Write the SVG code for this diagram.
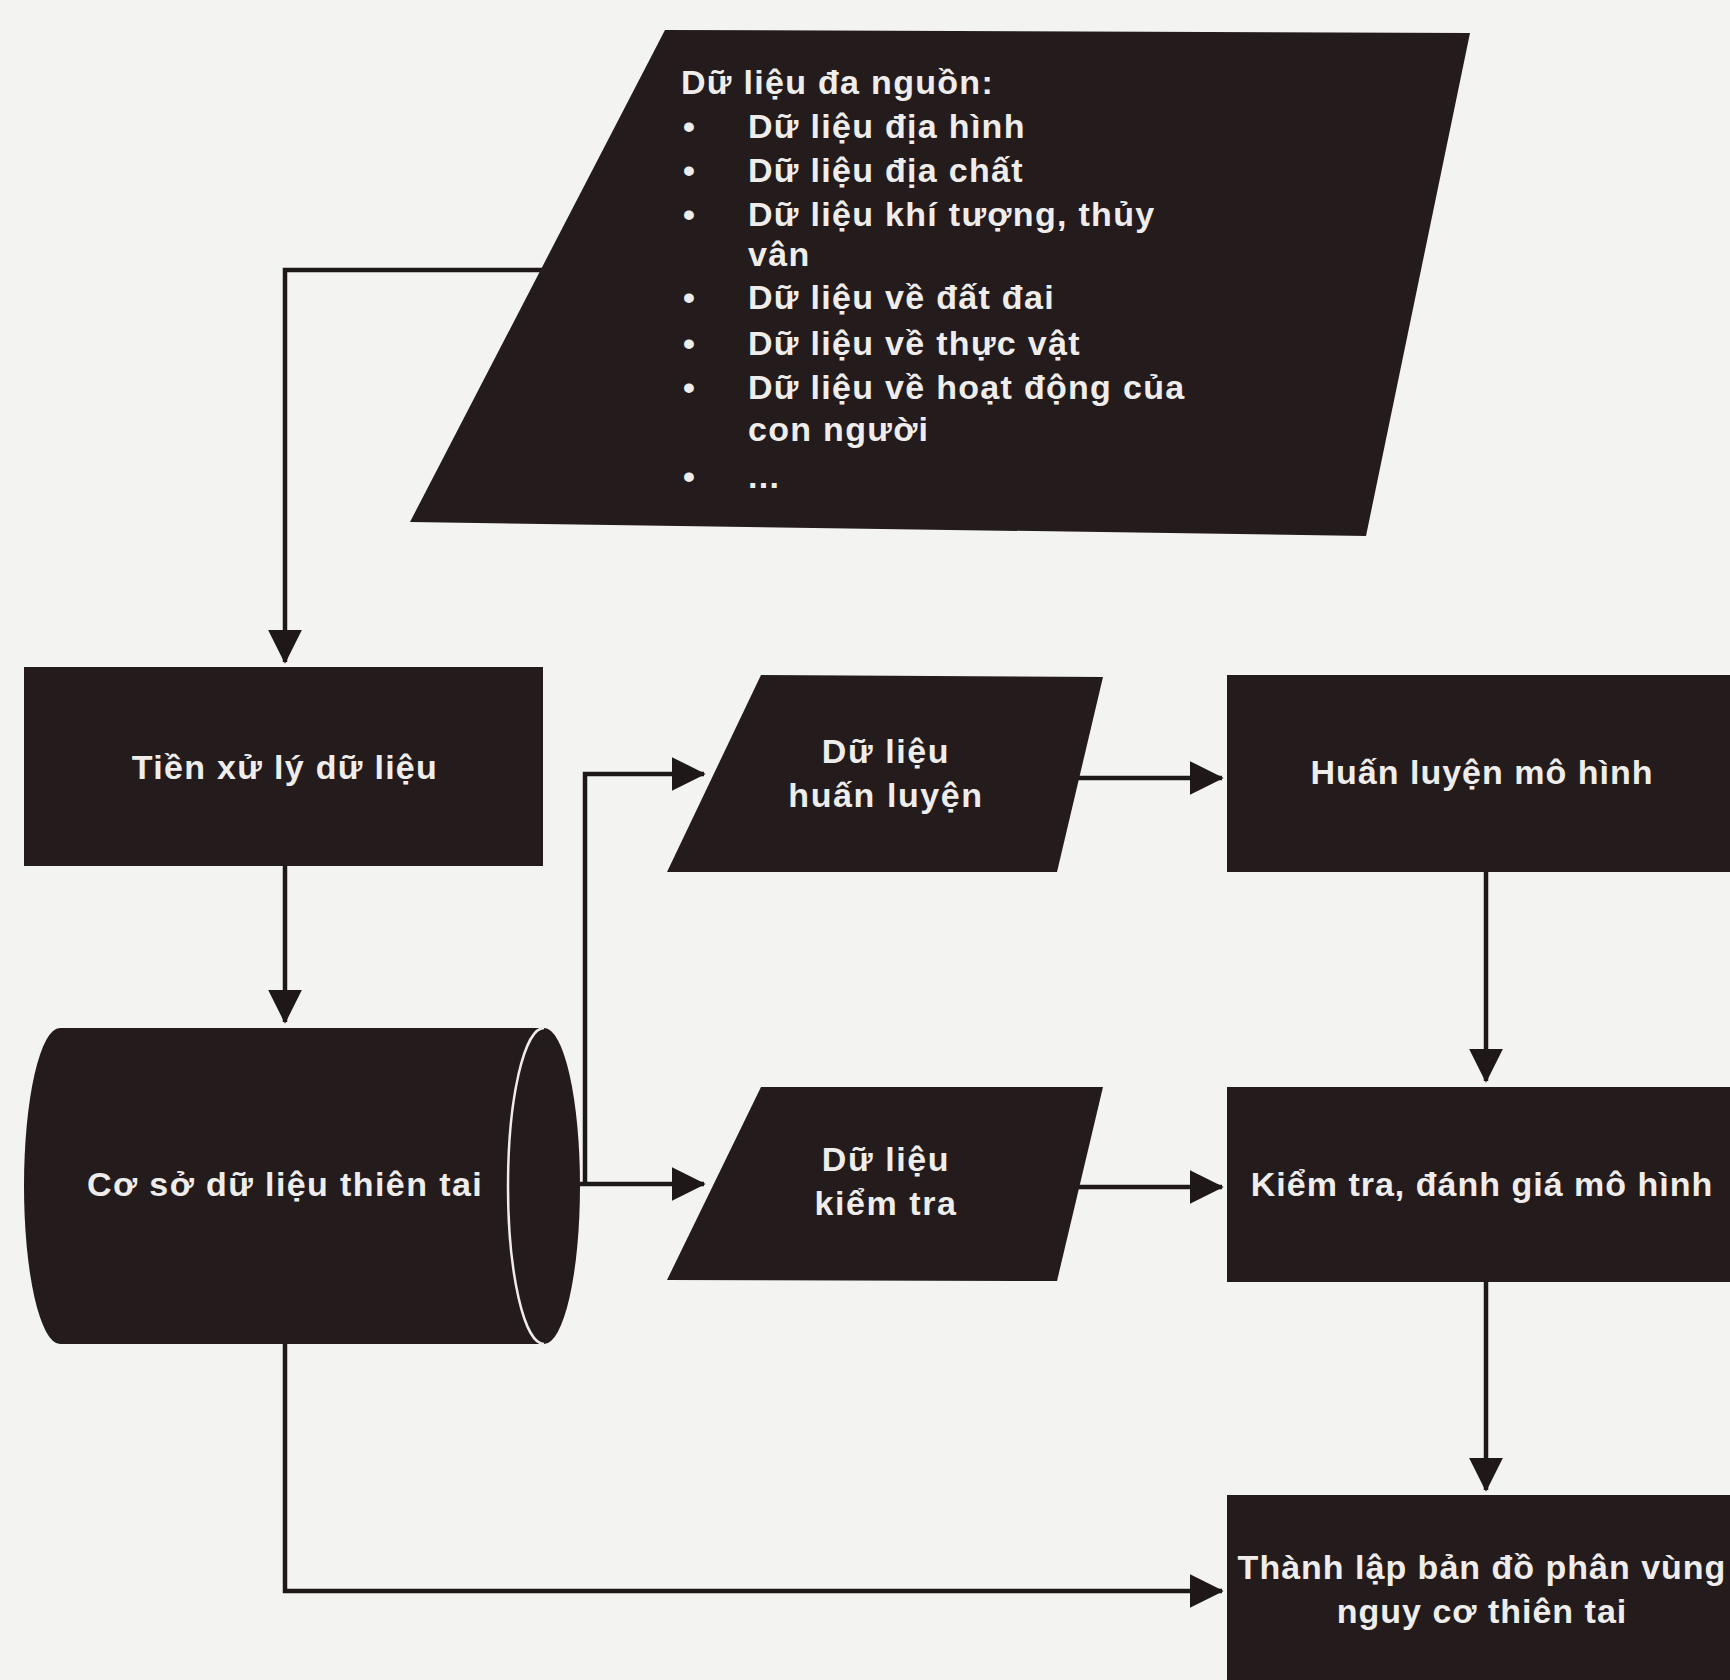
<svg xmlns="http://www.w3.org/2000/svg" width="1730" height="1680" viewBox="0 0 1730 1680">
<defs>
<style>
.node{fill:#241c1c;}
.t{fill:#efedeb;font-family:"Liberation Sans",Arial,sans-serif;font-weight:bold;font-size:34px;}
.c{text-anchor:middle;}
.l{letter-spacing:1.3px;}
.p{letter-spacing:1.6px;}
.r{letter-spacing:1px;}
.edge{fill:none;stroke:#1e1818;stroke-width:4.5;}
</style>
<marker id="ah" viewBox="0 0 10 10" refX="9.5" refY="5" markerWidth="7.5" markerHeight="7.5" markerUnits="strokeWidth" orient="auto">
<path d="M0,0 L10,5 L0,10 z" fill="#1e1818"/>
</marker>
</defs>
<rect width="1730" height="1680" fill="#f3f3f1"/>

<g id="connectors">
<path class="edge" d="M545,270 H285 V662" marker-end="url(#ah)"/>
<path class="edge" d="M285,866 V1022" marker-end="url(#ah)"/>
<path class="edge" d="M580,1184 H704" marker-end="url(#ah)"/>
<path class="edge" d="M585,1184 V774 H704" marker-end="url(#ah)"/>
<path class="edge" d="M1057,778 H1222" marker-end="url(#ah)"/>
<path class="edge" d="M1057,1187 H1222" marker-end="url(#ah)"/>
<path class="edge" d="M1486,872 V1081" marker-end="url(#ah)"/>
<path class="edge" d="M1486,1282 V1490" marker-end="url(#ah)"/>
<path class="edge" d="M285,1344 V1591 H1222" marker-end="url(#ah)"/>
</g>

<g id="n_input">
<polygon class="node" points="665,30 1470,33 1366,536 410,522"/>
<g class="t l">
<text x="681" y="94">Dữ liệu đa nguồn:</text>
<text x="683" y="138">•</text><text x="748" y="138">Dữ liệu địa hình</text>
<text x="683" y="182">•</text><text x="748" y="182">Dữ liệu địa chất</text>
<text x="683" y="226">•</text><text x="748" y="226">Dữ liệu khí tượng, thủy</text>
<text x="748" y="266">vân</text>
<text x="683" y="309">•</text><text x="748" y="309">Dữ liệu về đất đai</text>
<text x="683" y="355">•</text><text x="748" y="355">Dữ liệu về thực vật</text>
<text x="683" y="399">•</text><text x="748" y="399">Dữ liệu về hoạt động của</text>
<text x="748" y="441">con người</text>
<text x="683" y="488">•</text><text x="748" y="488">...</text>
</g>
</g>

<g id="n_preprocess">
<rect class="node" x="24" y="667" width="519" height="199"/>
<text class="t c l" x="285" y="779">Tiền xử lý dữ liệu</text>
</g>

<g id="n_db">
<path class="node" d="M60,1028 H544 A36,158 0 0 1 544,1344 H60 A36,158 0 0 1 60,1028 Z"/>
<path d="M544,1028 A36,158 0 0 0 544,1344" fill="none" stroke="#efedeb" stroke-width="2.5"/>
<text class="t c" x="285" y="1196" style="letter-spacing:1.4px">Cơ sở dữ liệu thiên tai</text>
</g>

<g id="n_train_data">
<polygon class="node" points="761,675 1103,677 1057,872 667,872"/>
<text class="t c p" x="886" y="763">Dữ liệu</text>
<text class="t c p" x="886" y="807">huấn luyện</text>
</g>

<g id="n_test_data">
<polygon class="node" points="761,1087 1103,1087 1057,1281 667,1280"/>
<text class="t c p" x="886" y="1171">Dữ liệu</text>
<text class="t c p" x="886" y="1215">kiểm tra</text>
</g>

<g id="n_train">
<rect class="node" x="1227" y="675" width="503" height="197"/>
<text class="t c r" x="1482" y="784">Huấn luyện mô hình</text>
</g>

<g id="n_eval">
<rect class="node" x="1227" y="1087" width="503" height="195"/>
<text class="t c r" x="1482" y="1196">Kiểm tra, đánh giá mô hình</text>
</g>

<g id="n_map">
<rect class="node" x="1227" y="1495" width="503" height="185"/>
<text class="t c r" x="1482" y="1579">Thành lập bản đồ phân vùng</text>
<text class="t c r" x="1482" y="1623">nguy cơ thiên tai</text>
</g>
</svg>
